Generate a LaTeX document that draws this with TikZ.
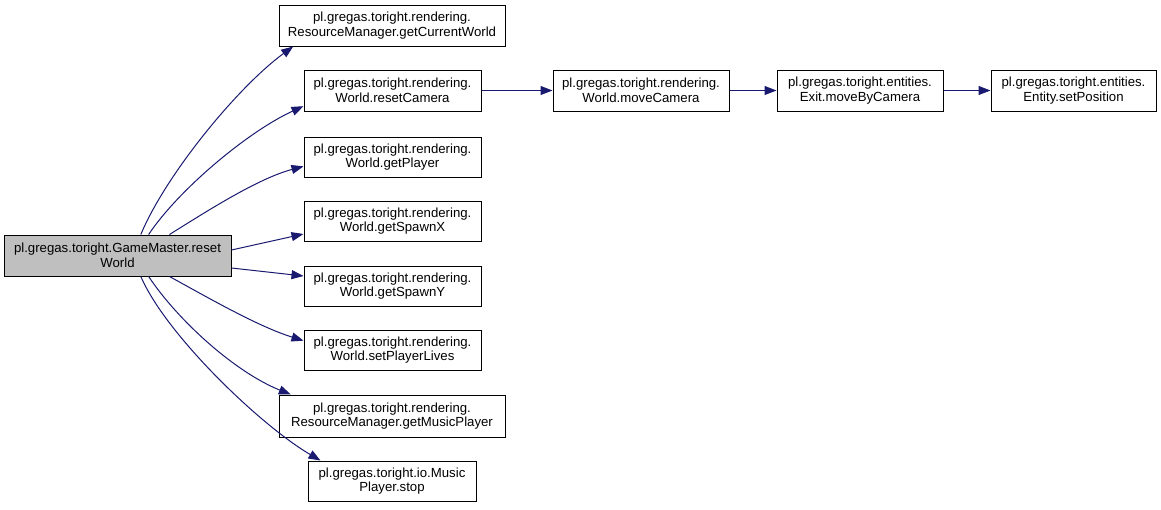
\documentclass[tikz,border=0pt]{standalone}
\usepackage{fontspec}
\setmainfont{Liberation Sans}
\usetikzlibrary{arrows.meta}
\definecolor{edgeblue}{HTML}{191970}
\tikzset{
  fn/.style={draw=black, line width=1pt, fill=white, align=center, inner sep=0pt,
    font=\fontsize{13.2pt}{14.5pt}\selectfont},
  mainfn/.style={fn, fill=black!25},
  call/.style={draw=edgeblue, line width=1pt, -{Triangle[length=12pt,width=9pt]}, edgeblue}
}
\begin{document}
\begin{tikzpicture}[x=1pt,y=-1pt]
\useasboundingbox (0,0) rectangle (1161,509);
\node[mainfn, minimum width=227pt, minimum height=41pt] (main) at (117.5,255.5) {pl.gregas.toright.GameMaster.reset\\World};
\node[fn, minimum width=226pt, minimum height=41pt] (gcw) at (392,25.5) {pl.gregas.toright.rendering.\\ResourceManager.getCurrentWorld};
\node[fn, minimum width=177pt, minimum height=41pt] (rc) at (392.5,90.5) {pl.gregas.toright.rendering.\\World.resetCamera};
\node[fn, minimum width=177pt, minimum height=40pt] (gp) at (392.5,157) {pl.gregas.toright.rendering.\\World.getPlayer};
\node[fn, minimum width=177pt, minimum height=40pt] (gsx) at (392.5,221) {pl.gregas.toright.rendering.\\World.getSpawnX};
\node[fn, minimum width=177pt, minimum height=40pt] (gsy) at (392.5,286) {pl.gregas.toright.rendering.\\World.getSpawnY};
\node[fn, minimum width=177pt, minimum height=40pt] (spl) at (392.5,350) {pl.gregas.toright.rendering.\\World.setPlayerLives};
\node[fn, minimum width=226pt, minimum height=42pt] (gmp) at (392,416) {pl.gregas.toright.rendering.\\ResourceManager.getMusicPlayer};
\node[fn, minimum width=168pt, minimum height=40pt] (stop) at (392,481) {pl.gregas.toright.io.Music\\Player.stop};
\node[fn, minimum width=176pt, minimum height=41pt] (mc) at (641,90.5) {pl.gregas.toright.rendering.\\World.moveCamera};
\node[fn, minimum width=166pt, minimum height=41pt] (mbc) at (860,90.5) {pl.gregas.toright.entities.\\Exit.moveByCamera};
\node[fn, minimum width=165pt, minimum height=41pt] (sp) at (1073.5,90.5) {pl.gregas.toright.entities.\\Entity.setPosition};
\draw[call] (main.42) .. controls +(25,-60) and +(-55,40) .. (gcw.192);
\draw[call] (main.34) .. controls +(30,-45) and +(-55,25) .. (rc.190);
\draw[call] (main.22) .. controls +(40,-25) and +(-45,12) .. (gp.186);
\draw[call] (main.east |- 0,250) -- (gsx.west |- 0,234);
\draw[call] (main.east |- 0,268) -- (gsy.west |- 0,276);
\draw[call] (main.-22) .. controls +(40,22) and +(-45,-14) .. (spl.174);
\draw[call] (main.-34) .. controls +(30,45) and +(-55,-22) .. (gmp.168);
\draw[call] (main.-42) .. controls +(25,58) and +(-60,-35) .. (stop.164);
\draw[call] (rc) -- (mc);
\draw[call] (mc) -- (mbc);
\draw[call] (mbc) -- (sp);
\end{tikzpicture}
\end{document}
